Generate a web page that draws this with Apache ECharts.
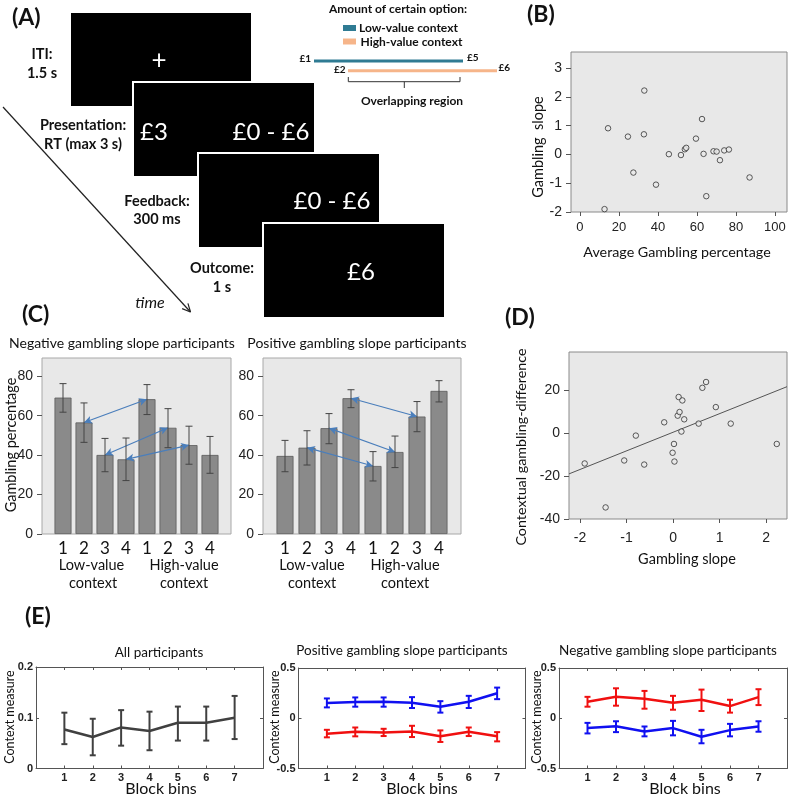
<!DOCTYPE html>
<html>
<head>
<meta charset="utf-8">
<script src="https://cdn.jsdelivr.net/npm/echarts@6/dist/echarts.min.js"></script>
<style>
html,body{margin:0;padding:0;background:#fff;}
#chart{width:790px;height:796px;}
</style>
</head>
<body>
<div id="chart"></div>
<script>
// ---------------- DATA ----------------
// Panel B: average gambling percentage vs gambling slope
const bX = [14.4,33.0,24.6,32.8,27.4,12.6,39.0,45.6,51.8,53.8,54.5,59.5,62.6,63.4,64.8,68.5,70.1,71.8,74.0,76.4,87.0];
const bY = [0.91,2.22,0.62,0.70,-0.63,-1.90,-1.05,0.01,-0.02,0.18,0.23,0.55,1.23,0.02,-1.45,0.11,0.10,-0.20,0.14,0.17,-0.80];
const bTicksX = [0,20,40,60,80,100];
const bTicksY = [-2,-1,0,1,2,3];

// Panel D: gambling slope vs contextual gambling-difference
const dX = [-1.90,-1.45,-1.05,-0.80,-0.62,-0.19,-0.01,0.02,0.03,0.12,0.10,0.14,0.20,0.18,0.24,0.55,0.63,0.71,0.92,1.24,2.23];
const dY = [-14.1,-34.6,-12.7,-1.1,-14.6,5.1,-9.1,-5.0,-13.2,16.9,8.2,9.9,15.3,0.8,6.5,4.5,21.2,23.9,12.2,4.5,-5.0];
const dFitIntercept = 0.46;
const dFitSlope = 8.68;
const dTicksX = [-2,-1,0,1,2];
const dTicksY = [-40,-20,0,20];

// Panel C: gambling percentage per bin and context
const cCats = ['', '1','2','3','4','1','2','3','4', ''];
const cNegMean = [69.2,56.6,40.1,37.9,68.4,53.9,45.1,40.1];
const cNegHi   = [76.3,66.5,48.5,48.7,75.8,63.6,54.7,49.5];
const cNegLo   = [61.8,46.5,31.6,27.1,60.6,43.8,35.4,30.8];
const cPosMean = [39.6,43.8,53.7,68.9,34.5,41.6,59.6,72.6];
const cPosHi   = [47.5,52.4,61.1,73.2,41.8,49.7,67.2,77.8];
const cPosLo   = [31.6,35.0,45.8,64.1,26.9,33.7,51.9,67.0];
const cArrows  = [[2,5],[3,6],[4,7]];
const cTicksY  = [0,20,40,60,80];

// Panel E: context measure per block bin
const eBins = [1,2,3,4,5,6,7];
const eAllMean = [0.077,0.062,0.081,0.074,0.090,0.090,0.100];
const eAllHi   = [0.110,0.098,0.115,0.112,0.122,0.122,0.143];
const eAllLo   = [0.048,0.026,0.045,0.036,0.055,0.055,0.058];
const ePosBlueMean = [0.151,0.161,0.164,0.154,0.115,0.164,0.249];
const ePosBlueHi   = [0.197,0.207,0.207,0.210,0.170,0.223,0.305];
const ePosBlueLo   = [0.108,0.115,0.115,0.102,0.056,0.102,0.190];
const ePosRedMean  = [-0.154,-0.134,-0.141,-0.131,-0.180,-0.134,-0.180];
const ePosRedHi    = [-0.115,-0.092,-0.105,-0.075,-0.121,-0.092,-0.138];
const ePosRedLo    = [-0.190,-0.180,-0.177,-0.187,-0.236,-0.177,-0.230];
const eNegRedMean  = [0.164,0.213,0.193,0.154,0.184,0.121,0.210];
const eNegRedHi    = [0.213,0.298,0.272,0.223,0.285,0.184,0.289];
const eNegRedLo    = [0.115,0.125,0.095,0.085,0.072,0.056,0.131];
const eNegBlueMean = [-0.098,-0.079,-0.131,-0.098,-0.184,-0.118,-0.082];
const eNegBlueHi   = [-0.046,-0.030,-0.082,-0.026,-0.115,-0.056,-0.030];
const eNegBlueLo   = [-0.151,-0.138,-0.180,-0.170,-0.249,-0.180,-0.134];
const eTicksX = [1,2,3,4,5,6,7];
const eTicksAll = [0,0.1,0.2];
const eTicksPm = [-0.5,0,0.5];

// ---------------- HELPERS ----------------
const FONT = 'Lato, "Open Sans", sans-serif';
const ARIAL = '"Liberation Sans", Arial, sans-serif';
const zip = (a,b) => a.map((v,i)=>[v,b[i]]);

function errSeries(xi, yi, xs, lo, hi, color, capHalf, lw) {
  return {
    type:'custom', xAxisIndex:xi, yAxisIndex:yi, coordinateSystem:'cartesian2d',
    encode:{x:0, y:[1,2]}, silent:true, z:5,
    data: xs.map((x,i)=>[x, lo[i], hi[i]]),
    renderItem: function(params, api){
      const x = api.value(0);
      const p1 = api.coord([x, api.value(1)]);
      const p2 = api.coord([x, api.value(2)]);
      const st = {stroke:color, lineWidth:lw};
      return {type:'group', children:[
        {type:'line', shape:{x1:p1[0],y1:p1[1],x2:p2[0],y2:p2[1]}, style:st},
        {type:'line', shape:{x1:p1[0]-capHalf,y1:p1[1],x2:p1[0]+capHalf,y2:p1[1]}, style:st},
        {type:'line', shape:{x1:p2[0]-capHalf,y1:p2[1],x2:p2[0]+capHalf,y2:p2[1]}, style:st}
      ]};
    }
  };
}

function spssX(grid, min, max, ticks, fs, margin) {
  return {gridIndex:grid, type:'value', min:min, max:max,
    axisLine:{show:false, onZero:false}, splitLine:{show:false},
    axisTick:{show:true, customValues:ticks, length:4, lineStyle:{color:'#555'}},
    axisLabel:{customValues:ticks, margin:margin, fontSize:fs, fontFamily:ARIAL, color:'#222'}};
}
function spssY(grid, min, max, ticks, fs, margin) {
  return {gridIndex:grid, type:'value', min:min, max:max,
    axisLine:{show:false, onZero:false}, splitLine:{show:false},
    axisTick:{show:true, customValues:ticks, length:5, lineStyle:{color:'#555'}},
    axisLabel:{customValues:ticks, margin:margin, fontSize:fs, fontFamily:ARIAL, color:'#222'}};
}
function catX(grid) {
  return {gridIndex:grid, type:'category', data:cCats, boundaryGap:false,
    axisLine:{show:false, onZero:false}, axisTick:{show:false}, splitLine:{show:false},
    axisLabel:{interval:0, margin:6, fontSize:17, fontFamily:FONT, color:'#111'}};
}
function matX(grid, pos) {
  return {gridIndex:grid, type:'value', min:0, max:8, position:pos,
    axisLine:{show:true, onZero:false, lineStyle:{color:'#555', width:1}}, splitLine:{show:false},
    axisTick:{show:true, inside:true, length:3, customValues:eTicksX, lineStyle:{color:'#555'}},
    axisLabel: pos==='bottom' ? {customValues:eTicksX, margin:4, fontSize:11, fontWeight:'bold', fontFamily:ARIAL, color:'#222'} : {show:false}};
}
function matY(grid, pos, min, max, ticks) {
  return {gridIndex:grid, type:'value', min:min, max:max, position:pos,
    axisLine:{show:true, onZero:false, lineStyle:{color:'#555', width:1}}, splitLine:{show:false},
    axisTick:{show:true, inside:true, length:3, customValues:ticks, lineStyle:{color:'#555'}},
    axisLabel: pos==='left' ? {customValues:ticks, margin:3, fontSize:11, fontWeight:'bold', fontFamily:ARIAL, color:'#222'} : {show:false}};
}
function lineS(xi, yi, means, color) {
  return {type:'line', xAxisIndex:xi, yAxisIndex:yi, data:zip(eBins, means), symbol:'none',
    lineStyle:{color:color, width:2.5}, silent:true, z:4};
}
function barS(xi, yi, means, arrows) {
  return {type:'bar', xAxisIndex:xi, yAxisIndex:yi, data:['-', ...means, '-'], barWidth:17,
    itemStyle:{color:'#8a8a8a', borderColor:'#5c5c5c', borderWidth:0.8}, silent:true,
    markLine:{silent:true, symbol:['arrow','arrow'], symbolSize:[6,8], animation:false,
      label:{show:false}, lineStyle:{color:'#4a7ebb', width:1.2, type:'solid'},
      emphasis:{disabled:true},
      data: arrows.map(([a,b]) => [{coord:[a, means[a-1]]},{coord:[b, means[b-1]]}])}};
}
function txt(x, y, text, opt) {
  opt = opt || {};
  return {type:'text', x:x, y:y, rotation:opt.rot||0, silent:true, z:100,
    style:{text:text, fill:opt.color||'#111',
      font:(opt.weight||'normal')+' '+(opt.style||'normal')+' '+(opt.size||15)+'px '+(opt.family||FONT),
      align:opt.align||'center', verticalAlign:'middle'}};
}

// ---------------- PANEL A GRAPHICS (schematic) ----------------
const aGraphics = [];
[[70,12],[133,82],[198,153],[263,223]].forEach(([x,y])=>{
  aGraphics.push({type:'rect', shape:{x:x,y:y,width:182,height:95}, style:{fill:'#000', stroke:'#fff', lineWidth:2}, silent:true, z:50});
});
aGraphics.push(txt(159,61,'+',{color:'#fff',size:26}));
aGraphics.push(txt(154,132,'£3',{color:'#fff',size:24}));
aGraphics.push(txt(271,132,'£0 - £6',{color:'#fff',size:24}));
aGraphics.push(txt(332,201,'£0 - £6',{color:'#fff',size:24}));
aGraphics.push(txt(361,272,'£6',{color:'#fff',size:24}));
aGraphics.push(txt(42,54,'ITI:',{weight:'bold',size:14.5}));
aGraphics.push(txt(42,73,'1.5 s',{weight:'bold',size:14.5}));
aGraphics.push(txt(83,125,'Presentation:',{weight:'bold',size:14.5}));
aGraphics.push(txt(83,144,'RT (max 3 s)',{weight:'bold',size:14.5}));
aGraphics.push(txt(157,201,'Feedback:',{weight:'bold',size:14.5}));
aGraphics.push(txt(157,219,'300 ms',{weight:'bold',size:14.5}));
aGraphics.push(txt(222,268,'Outcome:',{weight:'bold',size:14.5}));
aGraphics.push(txt(222,287,'1 s',{weight:'bold',size:14.5}));
aGraphics.push(txt(150,303,'time',{style:'italic',size:16}));
(function(){
  const x1=3,y1=107,x2=190.5,y2=312;
  aGraphics.push({type:'line', shape:{x1,y1,x2,y2}, style:{stroke:'#222',lineWidth:1.2}, silent:true});
  const ang=Math.atan2(y2-y1,x2-x1), L=9;
  [0.45,-0.45].forEach(d=>{
    aGraphics.push({type:'line', shape:{x1:x2,y1:y2,x2:x2-L*Math.cos(ang+d),y2:y2-L*Math.sin(ang+d)}, style:{stroke:'#222',lineWidth:1.2}, silent:true});
  });
})();
aGraphics.push(txt(398,9,'Amount of certain option:',{weight:'bold',size:12}));
aGraphics.push({type:'rect', shape:{x:343,y:25,width:13,height:6}, style:{fill:'#2f7b93'}, silent:true});
aGraphics.push({type:'rect', shape:{x:343,y:38.5,width:13,height:6}, style:{fill:'#f6b58a'}, silent:true});
aGraphics.push(txt(359,28.5,'Low-value context',{weight:'bold',size:12,align:'left'}));
aGraphics.push(txt(360.5,42,'High-value context',{weight:'bold',size:12,align:'left'}));
aGraphics.push({type:'line', shape:{x1:314,y1:61,x2:463,y2:61}, style:{stroke:'#2f7b93',lineWidth:3}, silent:true});
aGraphics.push({type:'line', shape:{x1:348,y1:70.7,x2:497,y2:70.7}, style:{stroke:'#f6b58a',lineWidth:3}, silent:true});
aGraphics.push(txt(311,58.5,'£1',{weight:'bold',size:10,align:'right'}));
aGraphics.push(txt(467,57.5,'£5',{weight:'bold',size:10,align:'left'}));
aGraphics.push(txt(345.5,70,'£2',{weight:'bold',size:10,align:'right'}));
aGraphics.push(txt(498.5,67.5,'£6',{weight:'bold',size:10,align:'left'}));
aGraphics.push({type:'polyline', shape:{points:[[348.3,77],[348.3,81.7],[460,81.7],[460,77]]}, style:{stroke:'#333',lineWidth:1,fill:null}, silent:true});
aGraphics.push({type:'line', shape:{x1:404.3,y1:81.7,x2:404.3,y2:88}, style:{stroke:'#333',lineWidth:1}, silent:true});
aGraphics.push(txt(412,101,'Overlapping region',{weight:'bold',size:12}));

// ---------------- OTHER TEXT ----------------
const labels = [
  txt(12,18,'(A)',{weight:'bold',size:23,align:'left'}),
  txt(527,15,'(B)',{weight:'bold',size:23,align:'left'}),
  txt(22,315,'(C)',{weight:'bold',size:23,align:'left'}),
  txt(505,318,'(D)',{weight:'bold',size:23,align:'left'}),
  txt(25,617,'(E)',{weight:'bold',size:23,align:'left'}),
  txt(538,147,'Gambling  slope',{rot:Math.PI/2,size:14.5}),
  txt(677,252,'Average Gambling percentage',{size:14.3}),
  txt(521,447,'Contextual gambling-difference',{rot:Math.PI/2,size:14.3}),
  txt(687,559,'Gambling slope',{size:14.5}),
  txt(122,343,'Negative gambling slope participants',{size:14}),
  txt(357,343,'Positive gambling slope participants',{size:14}),
  txt(11,445,'Gambling percentage',{rot:Math.PI/2,size:14.5}),
  txt(91.5,565,'Low-value',{size:14.5}), txt(93,583,'context',{size:14.5}),
  txt(184,565,'High-value',{size:14.5}), txt(184,583,'context',{size:14.5}),
  txt(312,565,'Low-value',{size:14.5}), txt(312,583,'context',{size:14.5}),
  txt(405,565,'High-value',{size:14.5}), txt(405,583,'context',{size:14.5}),
  txt(159,653,'All participants',{size:13.5}),
  txt(402,651,'Positive gambling slope participants',{size:13.5}),
  txt(668,651,'Negative gambling slope participants',{size:13.5}),
  txt(10,717,'Context measure',{rot:Math.PI/2,size:12.5}),
  txt(275,717,'Context measure',{rot:Math.PI/2,size:12.5}),
  txt(537,717,'Context measure',{rot:Math.PI/2,size:12.5}),
  txt(161,789,'Block bins',{size:16}),
  txt(422,789,'Block bins',{size:16}),
  txt(685,789,'Block bins',{size:16})
];

// ---------------- OPTION ----------------
const boxB = {show:true, backgroundColor:'#e8e8e8', borderColor:'#8a8a8a', borderWidth:1, outerBoundsMode:'none', containLabel:false};
const boxC = {show:true, backgroundColor:'#e8e8e8', borderColor:'#a8a8a8', borderWidth:1, outerBoundsMode:'none', containLabel:false};
const plain = {show:false, outerBoundsMode:'none', containLabel:false};

const option = {
  animation:false,
  backgroundColor:'#fff',
  grid:[
    Object.assign({left:571, top:52, width:216, height:160}, boxB),
    Object.assign({left:569, top:352, width:218, height:167}, boxB),
    Object.assign({left:42, top:358, width:189, height:176}, boxC),
    Object.assign({left:263, top:358, width:198, height:176}, boxC),
    Object.assign({left:36, top:667, width:227, height:101.5}, plain),
    Object.assign({left:298.5, top:668, width:227, height:100.5}, plain),
    Object.assign({left:559, top:668, width:228, height:100.5}, plain)
  ],
  xAxis:[
    spssX(0, -4.6, 106.2, bTicksX, 13, 9),
    spssX(1, -2.237, 2.45, dTicksX, 14, 12),
    catX(2), catX(3),
    matX(4,'bottom'), matX(4,'top'),
    matX(5,'bottom'), matX(5,'top'),
    matX(6,'bottom'), matX(6,'top')
  ],
  yAxis:[
    spssY(0, -2, 3.56, bTicksY, 14, 9),
    spssY(1, -40, 37.9, dTicksY, 14, 9),
    spssY(2, 0, 89.3, cTicksY, 14, 9),
    spssY(3, 0, 89.3, cTicksY, 14, 9),
    matY(4,'left',0,0.2,eTicksAll), matY(4,'right',0,0.2,eTicksAll),
    matY(5,'left',-0.5,0.5,eTicksPm), matY(5,'right',-0.5,0.5,eTicksPm),
    matY(6,'left',-0.5,0.5,eTicksPm), matY(6,'right',-0.5,0.5,eTicksPm)
  ],
  series:[
    {type:'scatter', xAxisIndex:0, yAxisIndex:0, data:zip(bX,bY), symbolSize:5.5, silent:true,
      itemStyle:{color:'#e8e8e8', borderColor:'#333', borderWidth:1}},
    {type:'line', xAxisIndex:1, yAxisIndex:1, symbol:'none', silent:true,
      data:[[-2.237, dFitIntercept + dFitSlope*(-2.237)], [2.45, dFitIntercept + dFitSlope*2.45]],
      lineStyle:{color:'#555', width:1}},
    {type:'scatter', xAxisIndex:1, yAxisIndex:1, data:zip(dX,dY), symbolSize:5.5, silent:true,
      itemStyle:{color:'#e8e8e8', borderColor:'#333', borderWidth:1}, z:3},
    barS(2,2,cNegMean,cArrows),
    errSeries(2,2,[1,2,3,4,5,6,7,8],cNegLo,cNegHi,'#444',3.5,1),
    barS(3,3,cPosMean,cArrows),
    errSeries(3,3,[1,2,3,4,5,6,7,8],cPosLo,cPosHi,'#444',3.5,1),
    lineS(4,4,eAllMean,'#404040'),
    errSeries(4,4,eBins,eAllLo,eAllHi,'#404040',3,2),
    lineS(6,6,ePosBlueMean,'#1010f0'),
    errSeries(6,6,eBins,ePosBlueLo,ePosBlueHi,'#1010f0',3,2),
    lineS(6,6,ePosRedMean,'#f01010'),
    errSeries(6,6,eBins,ePosRedLo,ePosRedHi,'#f01010',3,2),
    lineS(8,8,eNegRedMean,'#f01010'),
    errSeries(8,8,eBins,eNegRedLo,eNegRedHi,'#f01010',3,2),
    lineS(8,8,eNegBlueMean,'#1010f0'),
    errSeries(8,8,eBins,eNegBlueLo,eNegBlueHi,'#1010f0',3,2)
  ],
  graphic: aGraphics.concat(labels)
};

const chart = echarts.init(document.getElementById('chart'), null, {renderer:'canvas', width:790, height:796});
chart.setOption(option);
</script>
</body>
</html>
